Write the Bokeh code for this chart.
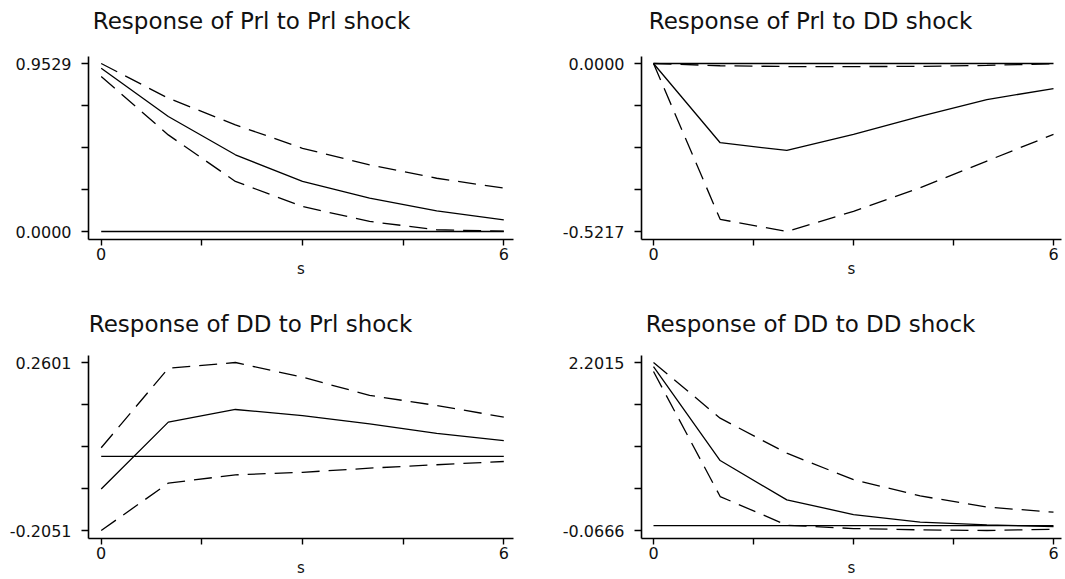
from bokeh.plotting import figure
from bokeh.models import FixedTicker, Range1d, PrintfTickFormatter, Label
from bokeh.layouts import column, row
from bokeh.embed import file_html
from bokeh.resources import INLINE

# ---------------- data ----------------
steps = [0, 1, 2, 3, 4, 5, 6]
zero_line = [0, 0, 0, 0, 0, 0, 0]
x_major_ticks = [0, 6]
x_minor_ticks = [1.5, 3, 4.5]
x_axis_label = "s"

titles = ["Response of Prl to Prl shock", "Response of Prl to DD shock",
          "Response of DD to Prl shock", "Response of DD to DD shock"]

# Response of Prl to Prl shock
irf_prl_prl = [0.926, 0.652, 0.435, 0.284, 0.189, 0.117, 0.066]
hi_prl_prl = [0.9529, 0.756, 0.605, 0.472, 0.378, 0.302, 0.246]
lo_prl_prl = [0.879, 0.548, 0.284, 0.142, 0.057, 0.010, 0.002]
yticks_prl_prl = [0.0000, 0.9529]

# Response of Prl to DD shock
irf_prl_dd = [0.0, -0.246, -0.270, -0.220, -0.164, -0.112, -0.078]
hi_prl_dd = [0.0, -0.007, -0.0095, -0.0095, -0.009, -0.006, -0.0005]
lo_prl_dd = [0.0, -0.484, -0.5217, -0.459, -0.386, -0.303, -0.220]
yticks_prl_dd = [-0.5217, 0.0000]

# Response of DD to Prl shock
irf_dd_prl = [-0.090, 0.095, 0.130, 0.113, 0.090, 0.064, 0.044]
hi_dd_prl = [0.024, 0.244, 0.2601, 0.2195, 0.169, 0.141, 0.109]
lo_dd_prl = [-0.2051, -0.074, -0.051, -0.044, -0.0325, -0.023, -0.014]
yticks_dd_prl = [-0.2051, 0.2601]

# Response of DD to DD shock
irf_dd_dd = [2.147, 0.878, 0.347, 0.149, 0.046, 0.010, -0.013]
hi_dd_dd = [2.2015, 1.45, 0.977, 0.62, 0.40, 0.25, 0.181]
lo_dd_dd = [2.080, 0.392, 0.005, -0.040, -0.058, -0.0666, -0.050]
yticks_dd_dd = [-0.0666, 2.2015]

FONT = "DejaVu Sans"


def make_panel(title, irf, lo, hi, yticks, fig_w, fig_h, b_left, b_right,
               b_bottom, px0, px6, top_gap, title_x, title_y):
    """top_gap: pixels from frame top (figure top) down to the max y tick."""
    frame_w = fig_w - b_left - b_right
    unit = (px6 - px0) / 6.0
    x_start = -px0 / unit
    x_end = (frame_w - px0) / unit
    ymin, ymax = yticks
    per_px = (ymax - ymin) / 168.0
    y_start = ymin - 8 * per_px
    y_end = ymax + top_gap * per_px
    axis_top = ymax + 7 * per_px

    p = figure(width=fig_w, height=fig_h, output_backend="svg",
               toolbar_location=None, title_location=None,
               x_range=Range1d(x_start, x_end), y_range=Range1d(y_start, y_end),
               min_border_left=b_left, min_border_right=b_right,
               min_border_top=0, min_border_bottom=b_bottom,
               background_fill_color="white", border_fill_color="white")
    p.outline_line_color = None
    p.xgrid.visible = False
    p.ygrid.visible = False

    mid = [(ymin + (ymax - ymin) * k / 4.0) for k in (1, 2, 3)]
    p.yaxis.ticker = FixedTicker(ticks=list(yticks), minor_ticks=mid)
    p.yaxis.formatter = PrintfTickFormatter(format="%.4f")
    p.yaxis.bounds = (y_start, axis_top)
    p.xaxis.ticker = FixedTicker(ticks=x_major_ticks, minor_ticks=x_minor_ticks)

    for ax, tick in ((p.xaxis, 6), (p.yaxis, 7)):
        ax.axis_line_color = "black"
        ax.axis_line_width = 1.6
        ax.major_tick_line_color = "black"
        ax.minor_tick_line_color = "black"
        ax.major_tick_line_width = 1.4
        ax.minor_tick_line_width = 1.4
        ax.major_tick_in = 0
        ax.minor_tick_in = 0
        ax.major_tick_out = tick
        ax.minor_tick_out = tick
        ax.major_label_text_font = FONT
        ax.major_label_text_font_size = "16px"
        ax.major_label_text_color = "#111111"
    p.yaxis.major_label_standoff = 10
    p.xaxis.major_label_standoff = 2

    p.xaxis.axis_label = x_axis_label
    p.xaxis.axis_label_text_font = FONT
    p.xaxis.axis_label_text_font_size = "15px"
    p.xaxis.axis_label_text_font_style = "normal"
    p.xaxis.axis_label_text_color = "#111111"
    p.xaxis.axis_label_standoff = -3

    p.add_layout(Label(x=title_x, y=title_y, x_units="screen", y_units="screen",
                       text=title, text_align="center",
                       text_baseline="middle", text_font=FONT,
                       text_font_size="23px", text_color="#111111"))

    p.line(steps, zero_line, line_color="black", line_width=1.3)
    p.line(steps, irf, line_color="black", line_width=1.3)
    p.line(steps, hi, line_color="black", line_width=1.3, line_dash="18 9")
    p.line(steps, lo, line_color="black", line_width=1.3, line_dash="18 9")
    return p


p1 = make_panel(titles[0], irf_prl_prl, lo_prl_prl, hi_prl_prl, yticks_prl_prl,
                538, 300, 88, 25, 61, 12.7, 415.3, 63, 163, 219)
p2 = make_panel(titles[1], irf_prl_dd, lo_prl_dd, hi_prl_dd, yticks_prl_dd,
                527, 300, 103, 4, 61, 12.0, 412.0, 63, 169, 219)
p3 = make_panel(titles[2], irf_dd_prl, lo_dd_prl, hi_dd_prl, yticks_dd_prl,
                538, 279, 88, 25, 41, 12.7, 415.3, 62, 162, 215)
p4 = make_panel(titles[3], irf_dd_dd, lo_dd_dd, hi_dd_dd, yticks_dd_dd,
                527, 279, 103, 4, 41, 12.0, 412.0, 62, 169, 215)

layout = column(row(p1, p2), row(p3, p4))
open("out.html", "w").write(file_html(layout, INLINE))
